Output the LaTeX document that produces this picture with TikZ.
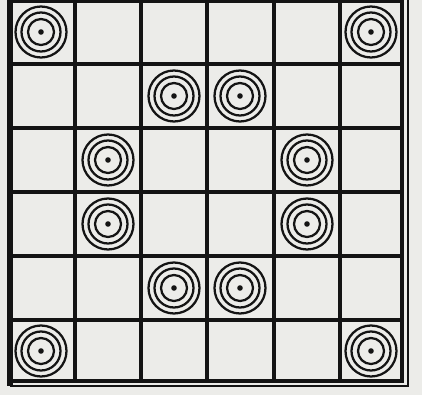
\documentclass[tikz,border=0pt]{standalone}
\usepackage{tikz}
\usepackage{xcolor}
\definecolor{paper}{RGB}{236,236,233}
\definecolor{ink}{RGB}{20,20,20}

\tikzset{
  gridline/.style={ink,line width=2.4pt},
  ringline/.style={ink,line width=1.6pt},
}
\newcommand{\target}[2]{% column, row
  \draw[ringline] (#1,#2) circle (25.5);
  \draw[ringline] (#1,#2) circle (19.5);
  \draw[ringline] (#1,#2) circle (13);
  \fill[ink] (#1,#2) circle (2.8);
}

\begin{document}
\begin{tikzpicture}[x=0.025cm,y=-0.025cm]
  \fill[paper] (0,0) rectangle (422,395);
  \useasboundingbox (0,0) rectangle (422,395);
  % inner grid
  \foreach \gx in {75,141,207,274,340} \draw[gridline] (\gx,0) -- (\gx,381);
  \foreach \gy in {64,128,192,256,320} \draw[gridline] (10,\gy) -- (402,\gy);
  % frame
  \draw[gridline] (10,1.5) -- (402,1.5);
  \draw[ink,line width=4.2pt] (10,0) -- (10,386);
  \draw[gridline] (402,0) -- (402,381) -- (10,381);
  \draw[ink,line width=1.8pt] (408,0) -- (408,386) -- (10,386);
  % markers
  \target{41}{32}   \target{371}{32}
  \target{174}{96}  \target{240}{96}
  \target{108}{160} \target{307}{160}
  \target{108}{224} \target{307}{224}
  \target{174}{288} \target{240}{288}
  \target{41}{351}  \target{371}{351}
\end{tikzpicture}
\end{document}
